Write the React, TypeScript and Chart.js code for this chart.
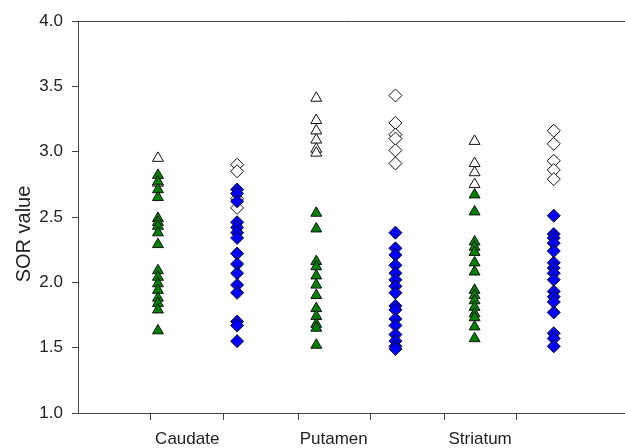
import React, { useEffect, useRef } from "react";
import { Chart, registerables } from "chart.js";

Chart.register(...registerables);

// Category labels and where they sit on the x axis
const categories = ["Caudate", "Putamen", "Striatum"];
const categoryLabelValues = [1.37, 3.22, 5.07];
const xTickValues = [0.91, 1.83, 2.77, 3.68, 4.62, 5.53];

// Column x values (triangle column, diamond column per category)
const columnX = [1, 2, 3, 4, 5, 6];

// Caudate
const caudateTriOpen = [2.95, 2.76];
const caudateTriGreen = [2.82, 2.77, 2.71, 2.65, 2.49, 2.46, 2.43, 2.38, 2.29, 2.09, 2.04, 1.99, 1.94, 1.88, 1.84, 1.79, 1.63];
const caudateDiaOpen = [2.90, 2.85, 2.64, 2.57];
const caudateDiaBlue = [2.71, 2.68, 2.62, 2.46, 2.42, 2.38, 2.34, 2.22, 2.14, 2.07, 1.98, 1.92, 1.70, 1.67, 1.55];

// Putamen
const putamenTriOpen = [3.41, 3.24, 3.16, 3.09, 3.02, 2.99];
const putamenTriGreen = [2.53, 2.41, 2.16, 2.12, 2.05, 1.98, 1.90, 1.80, 1.74, 1.68, 1.65, 1.52];
const putamenDiaOpen = [3.43, 3.22, 3.13, 3.10, 3.01, 2.91];
const putamenDiaBlue = [2.38, 2.26, 2.21, 2.13, 2.07, 2.02, 1.97, 1.92, 1.82, 1.79, 1.72, 1.67, 1.60, 1.55, 1.51, 1.49];

// Striatum
const striatumTriOpen = [3.08, 2.91, 2.84, 2.75];
const striatumTriGreen = [2.67, 2.54, 2.31, 2.27, 2.23, 2.15, 2.08, 1.94, 1.90, 1.86, 1.81, 1.76, 1.73, 1.66, 1.57];
const striatumDiaOpen = [3.16, 3.06, 2.93, 2.86, 2.79];
const striatumDiaBlue = [2.51, 2.37, 2.34, 2.30, 2.24, 2.15, 2.11, 2.07, 2.02, 1.93, 1.89, 1.85, 1.77, 1.61, 1.57, 1.51];

const yAxisTitle = "SOR value";

const FONT = "'Liberation Sans', Arial, sans-serif";
const AXIS = "#444444";

const toPts = (x: number, ys: number[]) => ys.map((y) => ({ x, y }));

const isLabelTick = (v: number) => categoryLabelValues.some((c) => Math.abs(c - v) < 1e-6);

export default function App() {
  const ref = useRef<HTMLCanvasElement | null>(null);

  useEffect(() => {
    document.body.style.margin = "0";
    const canvas = ref.current;
    if (!canvas) return;

    const tri = (data: { x: number; y: number }[], fill: string) => ({
      data,
      pointStyle: "triangle",
      pointRadius: 6.3,
      backgroundColor: fill,
      borderColor: "#111111",
      borderWidth: 1,
      showLine: false,
    });
    const dia = (data: { x: number; y: number }[], fill: string) => ({
      data,
      pointStyle: "rectRot",
      pointRadius: 6.5,
      backgroundColor: fill,
      borderColor: "#111111",
      borderWidth: 1,
      showLine: false,
    });

    const GREEN = "#008200";
    const BLUE = "#0000ff";
    const WHITE = "#ffffff";

    const yTitlePlugin = {
      id: "yTitle",
      afterDraw(chart: any) {
        const c = chart.ctx;
        const area = chart.chartArea;
        c.save();
        // top frame line
        c.strokeStyle = AXIS;
        c.lineWidth = 1;
        c.beginPath();
        c.moveTo(area.left, Math.round(area.top) + 0.5);
        c.lineTo(area.right, Math.round(area.top) + 0.5);
        c.stroke();
        // y title
        c.translate(24, 234);
        c.rotate(-Math.PI / 2);
        c.font = `20px ${FONT}`;
        c.fillStyle = "#222222";
        c.textAlign = "center";
        c.textBaseline = "middle";
        c.fillText(yAxisTitle, 0, 0);
        c.restore();
      },
    };

    const chart = new Chart(canvas, {
      type: "scatter",
      data: {
        datasets: [
          tri(toPts(columnX[0], caudateTriGreen), GREEN),
          dia(toPts(columnX[1], caudateDiaBlue), BLUE),
          tri(toPts(columnX[2], putamenTriGreen), GREEN),
          dia(toPts(columnX[3], putamenDiaBlue), BLUE),
          tri(toPts(columnX[4], striatumTriGreen), GREEN),
          dia(toPts(columnX[5], striatumDiaBlue), BLUE),
          tri(toPts(columnX[0], caudateTriOpen), WHITE),
          dia(toPts(columnX[1], caudateDiaOpen), WHITE),
          tri(toPts(columnX[2], putamenTriOpen), WHITE),
          dia(toPts(columnX[3], putamenDiaOpen), WHITE),
          tri(toPts(columnX[4], striatumTriOpen), WHITE),
          dia(toPts(columnX[5], striatumDiaOpen), WHITE),
        ] as any,
      },
      options: {
        responsive: false,
        animation: false,
        layout: { autoPadding: false, padding: { top: 21, right: 0, left: 0, bottom: 0 } },
        plugins: {
          legend: { display: false },
          tooltip: { enabled: false },
        },
        scales: {
          x: {
            type: "linear",
            min: -0.01,
            max: 6.90,
            afterBuildTicks: (scale: any) => {
              const vals = [...xTickValues, ...categoryLabelValues].sort((a, b) => a - b);
              scale.ticks = vals.map((v) => ({ value: v }));
            },
            afterFit: (scale: any) => {
              scale.height = 35;
            },
            ticks: {
              autoSkip: false,
              maxRotation: 0,
              padding: 9,
              color: "#222222",
              font: { family: FONT, size: 17 },
              callback: (value: any) => {
                const i = categoryLabelValues.findIndex((c) => Math.abs(c - Number(value)) < 1e-6);
                return i >= 0 ? categories[i] : "";
              },
            },
            grid: {
              drawOnChartArea: false,
              drawTicks: true,
              tickLength: 7,
              tickColor: (ctx: any) =>
                ctx.tick && isLabelTick(ctx.tick.value) ? "rgba(0,0,0,0)" : AXIS,
            },
            border: { display: true, color: AXIS, width: 1 },
          },
          y: {
            type: "linear",
            min: 1,
            max: 4,
            afterFit: (scale: any) => {
              scale.width = 78;
            },
            ticks: {
              stepSize: 0.5,
              padding: 9,
              color: "#222222",
              font: { family: FONT, size: 17 },
              callback: (v: any) => Number(v).toFixed(1),
            },
            grid: {
              drawOnChartArea: false,
              drawTicks: true,
              tickLength: 6,
              tickColor: AXIS,
            },
            border: { display: true, color: AXIS, width: 1 },
          },
        },
      },
      plugins: [yTitlePlugin],
    });

    return () => chart.destroy();
  }, []);

  return (
    <div style={{ width: 625, height: 448 }}>
      <canvas ref={ref} width={625} height={448} style={{ display: "block", width: 625, height: 448 }} />
    </div>
  );
}
